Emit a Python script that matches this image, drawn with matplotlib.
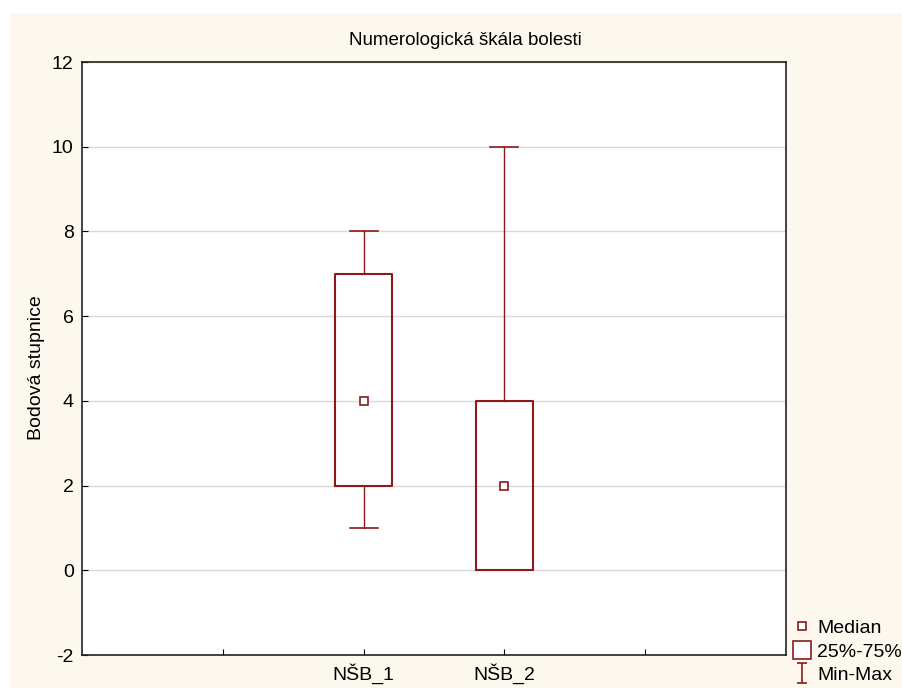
import matplotlib
matplotlib.use("Agg")
import matplotlib.pyplot as plt
import matplotlib.patches as mpatches
from matplotlib.lines import Line2D
from matplotlib.path import Path

plt.rcParams['font.family'] = ['Liberation Sans', 'DejaVu Sans']
plt.rcParams['axes.unicode_minus'] = False

# Data
labels = ["NŠB_1", "NŠB_2"]
positions = [2, 3]
mins = [1, 0]
q1s = [2, 0]
medians = [4, 2]
q3s = [7, 4]
maxs = [8, 10]

red = '#8b1a1a'
cream = '#fdf8ee'

fig = plt.figure(figsize=(9.02, 6.88), dpi=100)
fig.patches.append(mpatches.Rectangle((10 / 902, 0), 1, 1 - 13 / 688,
                                      transform=fig.transFigure,
                                      facecolor=cream, edgecolor='none', zorder=-10))
ax = fig.add_axes([82 / 902, 1 - 655 / 688, (786 - 82) / 902, (655 - 62) / 688])

stats = []
for lab, lo, a, m, b, hi in zip(labels, mins, q1s, medians, q3s, maxs):
    stats.append(dict(label=lab, whislo=lo, q1=a, med=m, q3=b, whishi=hi, mean=m))

ax.bxp(stats, positions=positions, widths=0.4, capwidths=0.2,
       showmeans=True, showfliers=False,
       boxprops=dict(color=red, linewidth=1.5),
       whiskerprops=dict(color=red, linewidth=1.0),
       capprops=dict(color=red, linewidth=1.2),
       medianprops=dict(linewidth=0),
       meanprops=dict(marker='s', markersize=6, markerfacecolor='white',
                      markeredgecolor=red, markeredgewidth=1.2))

ax.set_xlim(0, 5)
ax.set_ylim(-2, 12)
ax.set_xticks([1, 2, 3, 4])
ax.set_xticklabels(["", labels[0], labels[1], ""])
ax.set_yticks(range(-2, 13, 2))
ax.yaxis.grid(True, color='#d8d8d8', linewidth=1)
ax.set_axisbelow(True)
ax.tick_params(direction='in', length=4, labelsize=14, pad=6)
for s in ax.spines.values():
    s.set_color('#222222')
    s.set_linewidth(1.2)

ax.set_title("Numerologická škála bolesti", fontsize=13.5, pad=12, x=0.544)
ax.set_ylabel("Bodová stupnice", fontsize=14, labelpad=5, y=0.484)

# I-beam marker for the Min-Max legend entry
ibeam = Path([(-0.5, 1), (0.5, 1), (0, 1), (0, -1), (-0.5, -1), (0.5, -1)],
             [Path.MOVETO, Path.LINETO, Path.MOVETO, Path.LINETO, Path.MOVETO, Path.LINETO])

handles = [
    Line2D([], [], linestyle='none', marker='s', markersize=6, markerfacecolor='white',
           markeredgecolor=red, markeredgewidth=1.2),
    Line2D([], [], linestyle='none', marker='s', markersize=13, markerfacecolor='white',
           markeredgecolor=red, markeredgewidth=1.2),
    Line2D([], [], linestyle='none', marker=ibeam, markersize=15, color=red,
           markeredgewidth=1.2),
]
fig.legend(handles, ["Median", "25%-75%", "Min-Max"], loc='lower left',
           bbox_to_anchor=(792 / 902, 2 / 688), frameon=False, fontsize=14,
           handlelength=0.8, handletextpad=0.4, labelspacing=0.3,
           borderpad=0.1, borderaxespad=0.0)

fig.savefig("out.png", dpi=100, facecolor='white')
